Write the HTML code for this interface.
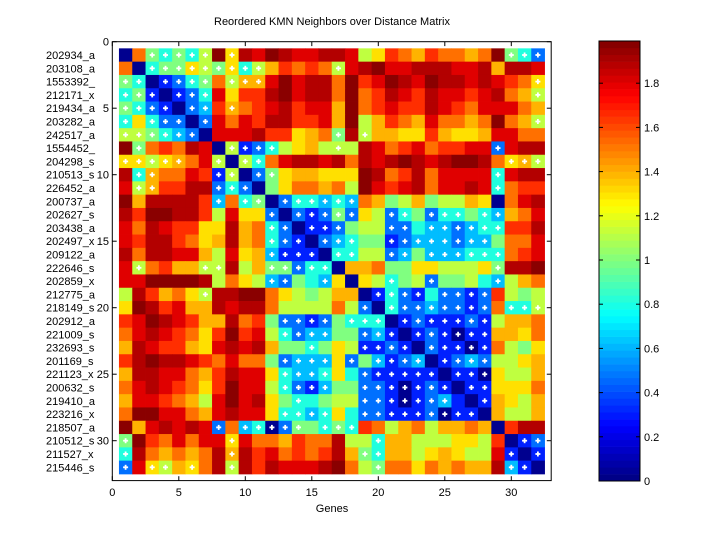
<!DOCTYPE html>
<html><head><meta charset="utf-8"><style>
html,body{margin:0;padding:0;background:#fff;}
body{width:720px;height:540px;overflow:hidden;}
svg text{font-family:"Liberation Sans",Arial,sans-serif;font-size:11px;fill:#000;}
</style></head><body>
<svg id="s" width="720" height="540" viewBox="0 0 720 540" xmlns="http://www.w3.org/2000/svg">
<rect width="720" height="540" fill="#fff"/>
<g id="cells"></g>
<g id="dots" fill="#fff"></g>
<rect x="112.3" y="41.7" width="438.9" height="438.9" fill="none" stroke="#000" stroke-width="1"/>
<g id="ticks" stroke="#000" stroke-width="1"></g>
<text x="332" y="25" text-anchor="middle">Reordered KMN Neighbors over Distance Matrix</text>
<text x="332" y="512" text-anchor="middle">Genes</text>
<g text-anchor="middle">
<text x="112.3" y="496">0</text><text x="178.8" y="496">5</text><text x="245.3" y="496">10</text><text x="311.8" y="496">15</text><text x="378.3" y="496">20</text><text x="444.8" y="496">25</text><text x="511.3" y="496">30</text>
</g>
<g text-anchor="end">
<text x="109" y="45.5">0</text><text x="109" y="112">5</text><text x="109" y="178.5">10</text><text x="109" y="245">15</text><text x="109" y="311.5">20</text><text x="109" y="378">25</text><text x="109" y="444.5">30</text>
</g>
<g>
<text x="46" y="59">202934_a</text><text x="46" y="72.3">203108_a</text><text x="46" y="85.6">1553392_</text><text x="46" y="98.9">212171_x</text><text x="46" y="112.2">219434_a</text><text x="46" y="125.5">203282_a</text><text x="46" y="138.8">242517_a</text><text x="46" y="152.1">1554452_</text><text x="46" y="165.4">204298_s</text><text x="46" y="178.7">210513_s</text><text x="46" y="192">226452_a</text><text x="46" y="205.3">200737_a</text><text x="46" y="218.6">202627_s</text><text x="46" y="231.9">203438_a</text><text x="46" y="245.2">202497_x</text><text x="46" y="258.5">209122_a</text><text x="46" y="271.8">222646_s</text><text x="46" y="285.1">202859_x</text><text x="46" y="298.4">212775_a</text><text x="46" y="311.7">218149_s</text><text x="46" y="325">202912_a</text><text x="46" y="338.3">221009_s</text><text x="46" y="351.6">232693_s</text><text x="46" y="364.9">201169_s</text><text x="46" y="378.2">221123_x</text><text x="46" y="391.5">200632_s</text><text x="46" y="404.8">219410_a</text><text x="46" y="418.1">223216_x</text><text x="46" y="431.4">218507_a</text><text x="46" y="444.7">210512_s</text><text x="46" y="458">211527_x</text><text x="46" y="471.3">215446_s</text>
</g>
<g id="cbar"></g>
<rect x="599" y="41" width="41" height="440" fill="none" stroke="#000" stroke-width="1"/>
<g id="cticks" stroke="#000" stroke-width="1"></g>
<g>
<text x="644" y="485">0</text><text x="644" y="440.8">0.2</text><text x="644" y="396.6">0.4</text><text x="644" y="352.4">0.6</text><text x="644" y="308.2">0.8</text><text x="644" y="264">1</text><text x="644" y="219.8">1.2</text><text x="644" y="175.6">1.4</text><text x="644" y="131.4">1.6</text><text x="644" y="87.2">1.8</text>
</g>
</svg>
<script>
(function(){
var NS="http://www.w3.org/2000/svg";
function jet(t){function c(v){return Math.max(0,Math.min(1,v));}
var r=c(1.5-Math.abs(4*t-3)),g=c(1.5-Math.abs(4*t-2)),b=c(1.5-Math.abs(4*t-1));
return "rgb("+Math.round(r*255)+","+Math.round(g*255)+","+Math.round(b*255)+")";}
var T={"0":0.015,"1":0.156,"2":0.235,"3":0.31,"4":0.406,"5":0.5,"6":0.5625,"7":0.655,"8":0.70,"9":0.765,"A":0.83,"B":0.905,"C":0.95,"D":0.99};
var V=[
"0954546D7CBDCBBCCB67A98A9989D542",
"904557657468A9A96BCDBBCCCBBC8CCB",
"54012459688BDBCC9DABDCBDCCBCBA97",
"4510124B7AACDBCC9D9ACBACBBABC986",
"5421023A89ABCABB8D9ABAACBA9BBB98",
"4742202B9BACCAAB8D68A98B9989D986",
"6654320BBBCAA7895C68877A8778BB99",
"D59A9CB06124678666CB9AB9AABB2BCC",
"776789B60649BCCBC9CBCDCBCDDC9786",
"C4899BA16025788777DC9AC9BBBB4BCC",
"B68AACC24205799896DBABC9BBCB49AA",
"D8CCCCA39450244343985685668709BC",
"CADDCCA6B7720212527624524454389B",
"B9CBAA77C89420112566224332344AAC",
"BACCA978C8942102345512333233599B",
"C9CCBB86B783111044662353334449AB",
"B69A8866C68552440889557766675CCD",
"BBDDDDC6976325437076456255643689",
"6CA8976CCDD97656880142142212A656",
"7DCAB88CBCC966669620422322129446",
"ABDCBA88C9A522125444012111216889",
"9BCBA97ADAB642335523101210118879",
"8CBAA87BCBC855457611210211019657",
"ACDCCBA9B99523337253123012326678",
"8CCBB98ACBB743347421111101107668",
"9BCBA97ADBB642135522101210117779",
"8BBA986BDBC754456622101231018768",
"9DDBB98BCBB744347422111201108668",
"D8BCBCB29340255454A9689688980ACC",
"5DA9B9BB7B998A99C66488666776A012",
"4C98989C8CAB9A9AC85488678766B101",
"2B76879C6CACBBBCD96599798988C310"];
var D=[
[3,4,5,6,7,9,30,31,32],[3,4,5,6,7,8,9,10,11,17],[1,2,4,5,6,7,9,10,11,32],[1,2,3,5,6,7,32],
[1,2,3,4,6,7,9],[1,3,4,5,7,32],[1,2,3,4,5,6,17,19],[2,9,10,11,12,17,29],
[1,2,3,4,5,8,10,11,30,31,32],[2,3,8,9,11,12,29],[2,3,8,9,10,29],[8,10,11,13,14,15,16,17,18],
[12,14,15,16,17,18,21,22,24,25,26,28,29],[12,13,15,16,17,21,22,24,25,26,27,28,29],
[12,13,14,16,17,18,21,22,23,24,25,26,27,28],[12,13,14,15,17,18,21,22,24,25,26,27,28,29],
[2,7,8,12,13,14,15,16,29],[12,13,16,21,24,29],[7,20,21,22,23,25,26,27,28],
[19,21,22,23,24,25,26,27,28,30,31,32],[13,14,15,16,18,19,20,22,23,24,25,26,27,28],
[13,14,15,16,19,20,21,23,24,25,26,27,28],[15,19,20,21,22,24,25,26,27,28],
[13,14,15,16,18,20,21,22,23,25,26,27,28],[13,14,15,16,19,20,21,22,23,24,26,27,28],
[13,14,15,16,19,20,21,22,23,24,25,27,28],[14,19,20,21,22,23,24,25,28],
[13,14,15,16,19,20,21,22,23,24,25,26,27],[8,10,11,12,13,14,16,17,18],
[1,9,20,31,32],[1,9,19,20,30,32],[1,3,4,6,9,20,30,31]];
var U=13.3,X0=112.3,Y0=41.7;
var cg=document.getElementById("cells"),dg=document.getElementById("dots");
function rect(g,x,y,w,h,f){var e=document.createElementNS(NS,"rect");e.setAttribute("x",x);e.setAttribute("y",y);e.setAttribute("width",w);e.setAttribute("height",h);if(f)e.setAttribute("fill",f);g.appendChild(e);}
for(var r=0;r<32;r++){for(var c=0;c<32;c++){
var x=X0+U*(c+0.5),y=Y0+U*(r+0.5);
rect(cg,x.toFixed(2),y.toFixed(2),(U+0.4).toFixed(2),(U+0.4).toFixed(2),jet(T[V[r][c]]));}
D[r].forEach(function(cc){var cx=X0+U*cc,cy=Y0+U*(r+1);
rect(dg,(cx-2.5).toFixed(2),(cy-0.9).toFixed(2),5,1.8);rect(dg,(cx-0.9).toFixed(2),(cy-2.5).toFixed(2),1.8,5);});}
var tg=document.getElementById("ticks");
function line(g,a,b,c2,d){var e=document.createElementNS(NS,"line");e.setAttribute("x1",a);e.setAttribute("y1",b);e.setAttribute("x2",c2);e.setAttribute("y2",d);g.appendChild(e);}
for(var k=0;k<=30;k+=5){var x=X0+U*k;line(tg,x,480.6,x,476.2);line(tg,x,41.7,x,46.1);
var y=Y0+U*k;line(tg,112.3,y,116.7,y);line(tg,551.2,y,546.8,y);}
var cb=document.getElementById("cbar");
for(var i=0;i<64;i++){var y=41+440*(63-i)/64;rect(cb,599,y.toFixed(2),41,(440/64+0.3).toFixed(2),jet((i+0.5)/64));}
var ct=document.getElementById("cticks");
for(var v=0;v<=9;v++){var y=481-v*44.2;line(ct,599,y,603,y);line(ct,640,y,636,y);}
})();
</script>
</body></html>
